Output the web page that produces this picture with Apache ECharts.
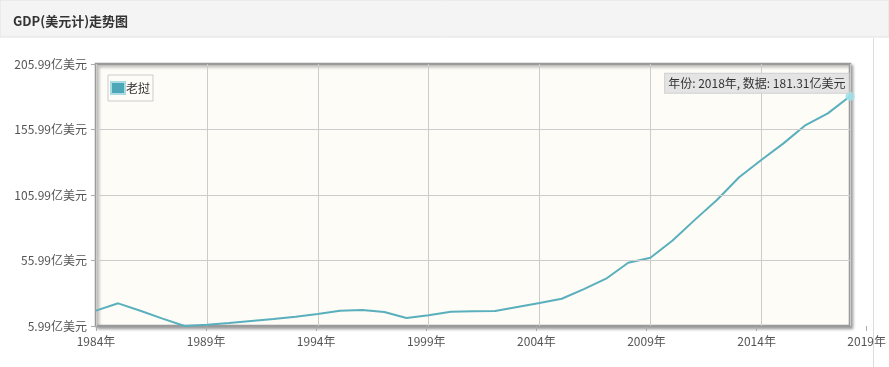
<!DOCTYPE html>
<html><head><meta charset="utf-8">
<script src="https://cdn.jsdelivr.net/npm/echarts@6/dist/echarts.min.js"></script>
<style>html,body{margin:0;padding:0;background:#fff}#c{width:889px;height:367px}</style>
</head><body><div id="c"></div>
<script>
const titleText = 'GDP(美元计)走势图';
const seriesName = '老挝';
const years = [1984,1985,1986,1987,1988,1989,1990,1991,1992,1993,1994,1995,1996,1997,1998,1999,2000,2001,2002,2003,2004,2005,2006,2007,2008,2009,2010,2011,2012,2013,2014,2015,2016,2017,2018];
const gdp = [17.7,23.3,17.6,11.6,5.99,7.0,8.3,9.8,11.3,13.1,15.2,17.7,18.2,16.7,12.1,14.2,16.9,17.3,17.4,20.5,23.5,26.8,34.2,42.1,54.3,58.1,71.3,87.0,102.2,119.5,132.7,145.4,159.4,168.3,181.31];
const yMin = 5.99, yMax = 205.99, yStep = 50;
const xMin = 1984, xMaxData = 2018, xMaxAxis = 2019, xStep = 5;
const yTicks = [55.99, 105.99, 155.99];

const data = years.map((y, i) => [y, gdp[i]]);
const last = data[data.length - 1];
const font = "'Noto Sans CJK SC', sans-serif";

const chart = echarts.init(document.getElementById('c'));
chart.setOption({
  animation: false,
  backgroundColor: '#fff',
  graphic: [
    {type: 'rect', z: -10, shape: {x: 0, y: 0, width: 889, height: 37}, style: {fill: '#f4f4f4', stroke: '#e2e2e2', lineWidth: 1}},
    {type: 'line', z: -10, shape: {x1: 873.5, y1: 38, x2: 873.5, y2: 367}, style: {stroke: '#dcdcdc', lineWidth: 1}}
  ],
  title: {
    text: titleText, left: 8, top: 10,
    textStyle: {fontSize: 13, fontWeight: 'bold', color: '#333', fontFamily: font}
  },
  legend: {
    data: [seriesName], left: 108, top: 75, orient: 'vertical',
    padding: [6, 3, 6, 2], borderColor: '#ccc', borderWidth: 1,
    itemWidth: 14, itemHeight: 12, icon: 'rect',
    textStyle: {fontSize: 12, color: '#333', fontFamily: font, padding: [0, 0, 0, -4]}
  },
  grid: [
    {left: 96, right: 39, top: 64, bottom: 41, show: true, backgroundColor: '#fdfcf7',
     borderColor: '#9a9a9a', borderWidth: 2.5, shadowColor: 'rgba(0,0,0,0.3)', shadowBlur: 3, shadowOffsetX: 2, shadowOffsetY: 2},
    {left: 96, right: 16, top: 64, bottom: 41}
  ],
  xAxis: [
    {type: 'value', gridIndex: 0, min: xMin, max: xMaxData, interval: xStep,
     axisLine: {show: false}, axisTick: {show: false}, axisLabel: {show: false},
     splitLine: {show: true, lineStyle: {color: '#cccccc', width: 1}}},
    {type: 'value', gridIndex: 1, min: xMin, max: xMaxAxis, interval: xStep,
     axisLine: {show: false}, axisTick: {show: true, length: 5, lineStyle: {color: '#aaa'}},
     splitLine: {show: false},
     axisLabel: {margin: 9, fontSize: 12, color: '#555', fontFamily: font, formatter: v => v + '年'}}
  ],
  yAxis: [
    {type: 'value', gridIndex: 0, min: yMin, max: yMax, interval: yStep,
     axisLine: {show: false}, axisTick: {show: true, length: 5, lineStyle: {color: '#aaa'}},
     splitLine: {show: false},
     axisLabel: {margin: 9, fontSize: 12, color: '#555', fontFamily: font, formatter: v => v.toFixed(2) + '亿美元'}},
    {type: 'value', gridIndex: 1, min: yMin, max: yMax, show: false}
  ],
  series: [{
    name: seriesName, type: 'line', xAxisIndex: 0, yAxisIndex: 0, data: data,
    showSymbol: false, smooth: false,
    lineStyle: {color: '#5aafbd', width: 2},
    itemStyle: {color: '#4ea7b7', borderColor: '#a9dbe3', borderWidth: 1},
    markLine: {
      silent: true, symbol: 'none', label: {show: false},
      lineStyle: {color: '#cccccc', width: 1, type: 'solid'},
      data: yTicks.map(v => [{coord: [xMin, v]}, {coord: [xMaxData, v]}])
    },
    markPoint: {
      symbol: 'circle', symbolSize: 9,
      itemStyle: {color: 'rgba(160,225,235,0.9)'},
      data: [{coord: last, value: last[1]}],
      label: {
        show: true, position: 'left', distance: 0, offset: [3, -13],
        backgroundColor: '#e4e4e4', borderColor: '#cfcfcf', borderWidth: 1,
        padding: [4, 3, 3, 3], color: '#333', fontSize: 12, fontFamily: font,
        formatter: () => '年份: ' + last[0] + '年, 数据: ' + last[1].toFixed(2) + '亿美元'
      }
    }
  }]
});
</script></body></html>
